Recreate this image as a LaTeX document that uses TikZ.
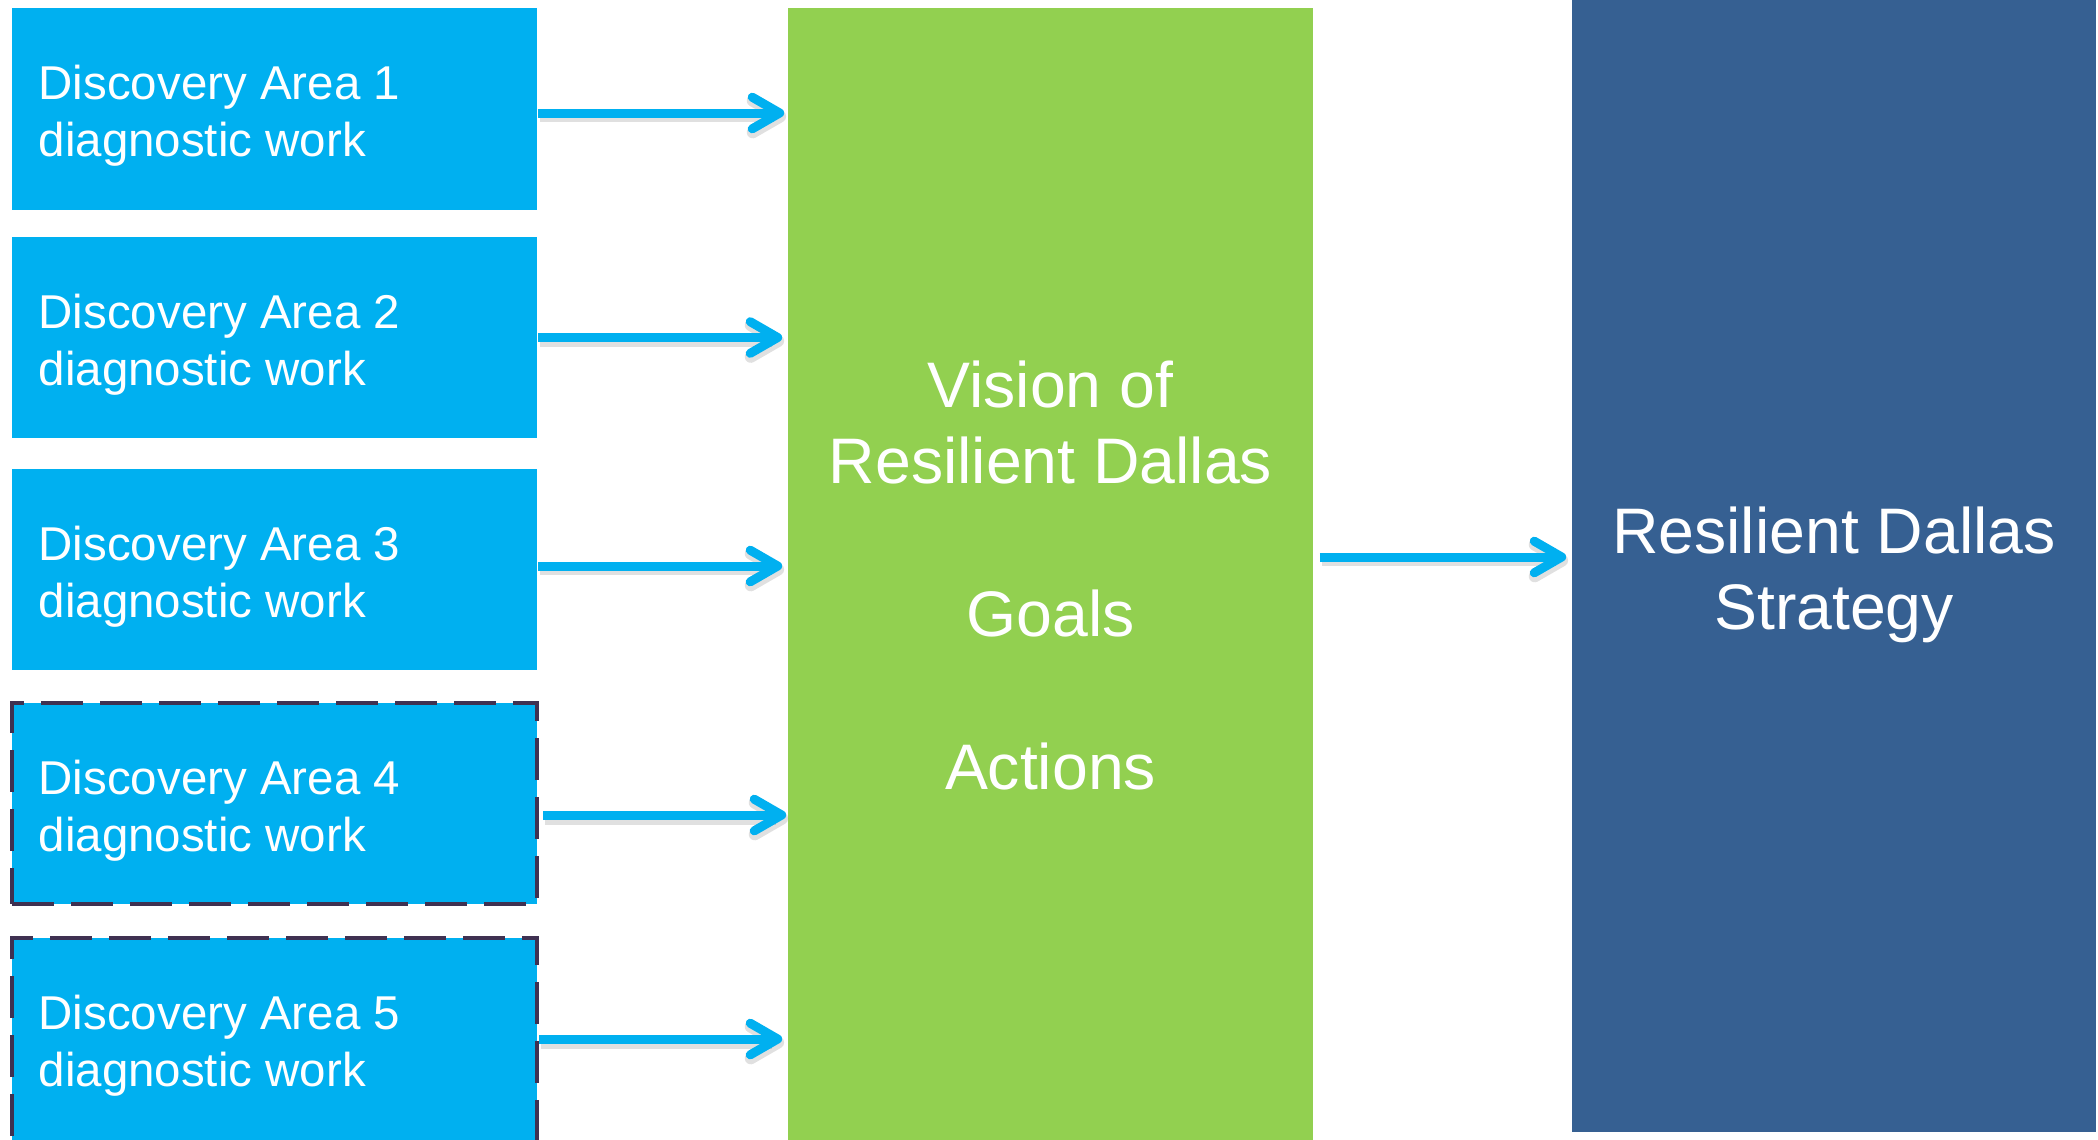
\documentclass[tikz,border=0pt]{standalone}
\usepackage{fontspec}
\setmainfont{Liberation Sans}
\usetikzlibrary{arrows.meta}
\definecolor{boxcyan}{HTML}{00B0F0}
\definecolor{boxgreen}{HTML}{92D050}
\definecolor{boxnavy}{HTML}{366092}
\definecolor{dashcol}{HTML}{3F3151}
\tikzset{
  dabox/.style={rectangle, fill=boxcyan, draw=none, minimum width=5.25cm, minimum height=2.01cm, inner sep=0pt},
  dashbox/.style={dabox, draw=dashcol, line width=0.045cm, dash pattern=on 0.42cm off 0.17cm},
  smalltxt/.style={inner sep=0pt, text=white, align=left, anchor=north west,
    font=\fontsize{13.5pt}{16.22pt}\selectfont},
  bigtxt/.style={inner sep=0pt, text=white, align=center, anchor=north,
    font=\fontsize{18.3pt}{21.76pt}\selectfont},
  flow/.style={draw=boxcyan, line width=2.56pt,
    -{Straight Barb[length=7.8pt, width=9pt, line cap=round, line join=round]}},
  flowshadow/.style={draw=black, opacity=0.12, line width=3.4pt,
    -{Straight Barb[length=7.8pt, width=9pt, line cap=round, line join=round]}}
}
\begin{document}
\begin{tikzpicture}[x=0.01cm, y=-0.01cm]
\useasboundingbox (0,0) rectangle (2098,1139);
\fill[white] (0,0) rectangle (2098,1139);

% big blocks
\node[rectangle, fill=boxgreen, minimum width=5.25cm, minimum height=11.42cm, inner sep=0pt] (vision) at (1050.5,579) {};
\node[rectangle, fill=boxnavy, minimum width=5.24cm, minimum height=11.42cm, inner sep=0pt] (strategy) at (1834,561) {};

% discovery boxes
\node[dabox] (da1) at (274.5,109) {};
\node[dabox] (da2) at (274.5,337.5) {};
\node[dabox] (da3) at (274.5,569.5) {};
\node[dashbox] (da4) at (274.5,803.5) {};
\node[dashbox, minimum height=2.10cm] (da5) at (274.5,1043) {};

\node[smalltxt] (t1) at (38,64) {Discovery Area 1\\diagnostic work};
\node[smalltxt] (t2) at (38,293) {Discovery Area 2\\diagnostic work};
\node[smalltxt] (t3) at (38,525) {Discovery Area 3\\diagnostic work};
\node[smalltxt] (t4) at (38,759) {Discovery Area 4\\diagnostic work};
\node[smalltxt] (t5) at (38,994) {Discovery Area 5\\diagnostic work};

\node[bigtxt] (vtxt) at (1050.5,359.8) {Vision of\\Resilient Dallas\\[21.76pt]Goals\\[21.76pt]Actions};
\node[bigtxt] (stxt) at (1834,505.8) {Resilient Dallas\\Strategy};

% arrow shadows
\begin{scope}[transform canvas={xshift=0.02cm, yshift=-0.035cm}]
\draw[flowshadow, shorten >=0.03cm] ([yshift=-0.04cm]da1.east) coordinate (h1) -- (h1 -| vision.west);
\draw[flowshadow, shorten >=0.05cm] (da2.east) coordinate (h2) -- (h2 -| vision.west);
\draw[flowshadow, shorten >=0.05cm] ([yshift=0.035cm]da3.east) coordinate (h3) -- (h3 -| vision.west);
\draw[flowshadow, shorten <=0.04cm, shorten >=0.01cm] ([yshift=-0.115cm]da4.east) coordinate (h4) -- (h4 -| vision.west);
\draw[flowshadow, shorten >=0.05cm] ([yshift=0.04cm]da5.east) coordinate (h5) -- (h5 -| vision.west);
\draw[flowshadow, shorten <=0.06cm, shorten >=0.05cm] ([yshift=0.22cm]vision.east) coordinate (h6) -- (h6 -| strategy.west);
\end{scope}

% arrows
\draw[flow, shorten >=0.03cm] ([yshift=-0.04cm]da1.east) coordinate (s1) -- (s1 -| vision.west);
\draw[flow, shorten >=0.05cm] (da2.east) coordinate (s2) -- (s2 -| vision.west);
\draw[flow, shorten >=0.05cm] ([yshift=0.035cm]da3.east) coordinate (s3) -- (s3 -| vision.west);
\draw[flow, shorten <=0.04cm, shorten >=0.01cm] ([yshift=-0.115cm]da4.east) coordinate (s4) -- (s4 -| vision.west);
\draw[flow, shorten >=0.05cm] ([yshift=0.04cm]da5.east) coordinate (s5) -- (s5 -| vision.west);
\draw[flow, shorten <=0.06cm, shorten >=0.05cm] ([yshift=0.22cm]vision.east) coordinate (s6) -- (s6 -| strategy.west);
\end{tikzpicture}
\end{document}
